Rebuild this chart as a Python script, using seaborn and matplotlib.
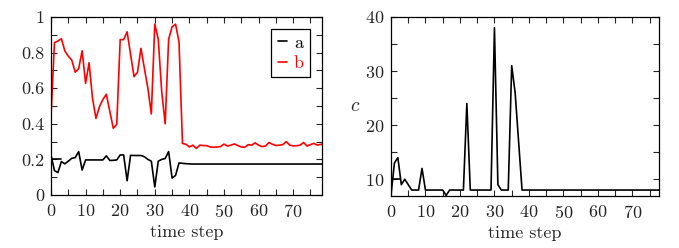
import numpy as np
import pandas as pd
import matplotlib
matplotlib.use("Agg")
import matplotlib.pyplot as plt
import seaborn as sns
from matplotlib.ticker import MultipleLocator

# time steps
steps = list(range(80))

serie_a = [0.225, 0.137, 0.126, 0.188, 0.175, 0.19, 0.206, 0.21, 0.244, 0.14,
           0.197, 0.197, 0.197, 0.197, 0.197, 0.197, 0.22, 0.194, 0.195, 0.197,
           0.225, 0.225, 0.08, 0.223, 0.222, 0.222, 0.222, 0.215, 0.2, 0.19,
           0.045, 0.19, 0.2, 0.205, 0.244, 0.095, 0.11, 0.18, 0.178, 0.176,
           0.175, 0.174, 0.174, 0.174, 0.174, 0.174, 0.174, 0.174, 0.174, 0.174,
           0.174, 0.174, 0.174, 0.174, 0.174, 0.174, 0.174, 0.174, 0.174, 0.174,
           0.174, 0.174, 0.174, 0.174, 0.174, 0.174, 0.174, 0.174, 0.174, 0.174,
           0.174, 0.174, 0.174, 0.174, 0.174, 0.174, 0.174, 0.174, 0.174, 0.174]

serie_b = [0.44, 0.856, 0.865, 0.878, 0.81, 0.78, 0.758, 0.69, 0.71, 0.81,
           0.627, 0.743, 0.543, 0.43, 0.496, 0.537, 0.566, 0.47, 0.375, 0.397,
           0.873, 0.873, 0.917, 0.79, 0.665, 0.69, 0.824, 0.71, 0.6, 0.455,
           0.96, 0.875, 0.58, 0.40, 0.875, 0.945, 0.96, 0.86, 0.29, 0.285,
           0.27, 0.28, 0.262, 0.28, 0.278, 0.277, 0.27, 0.268, 0.27, 0.272,
           0.286, 0.275, 0.28, 0.287, 0.278, 0.27, 0.268, 0.283, 0.28, 0.293,
           0.28, 0.272, 0.275, 0.295, 0.285, 0.278, 0.28, 0.283, 0.3, 0.28,
           0.276, 0.277, 0.28, 0.295, 0.275, 0.283, 0.29, 0.28, 0.285, 0.282]

serie_c = [7, 13, 14, 9, 10, 9, 8, 8, 8, 12,
           8, 8, 8, 8, 8, 8, 7, 8, 8, 8,
           8, 8, 24, 8, 8, 8, 8, 8, 8, 8,
           38, 9, 8, 8, 8, 31, 26, 17, 8, 8] + [8] * 40

# short initial segments seen at the start of a and c
inicio_t = [0, 3]
inicio_a = [0.2, 0.2]
inicio_c_t = [0, 2.7]
inicio_c = [10, 10]

etiquetas = ["a", "b"]
colores = ["black", "#ff0000"]

df = pd.DataFrame({"t": steps, "a": serie_a, "b": serie_b, "c": serie_c})

sns.set_style("ticks")
plt.rcParams["font.family"] = ["cmr10", "DejaVu Serif"]
plt.rcParams["mathtext.fontset"] = "cm"
plt.rcParams["axes.formatter.use_mathtext"] = True
plt.rcParams["font.size"] = 13

fig = plt.figure(figsize=(6.79, 2.48), dpi=100)
ax1 = fig.add_axes([0.0751, 0.2137, 0.3990, 0.7177])
ax2 = fig.add_axes([0.5758, 0.2097, 0.3947, 0.7218])

for serie, col in zip(etiquetas, colores):
    sns.lineplot(data=df, x="t", y=serie, ax=ax1, color=col, lw=1.2, label=serie)
sns.lineplot(x=inicio_t, y=inicio_a, ax=ax1, color="black", lw=1.2)

sns.lineplot(data=df, x="t", y="c", ax=ax2, color="black", lw=1.2)
sns.lineplot(x=inicio_c_t, y=inicio_c, ax=ax2, color="black", lw=1.2)

for ax in (ax1, ax2):
    ax.xaxis.set_major_locator(MultipleLocator(10))
    ax.xaxis.set_minor_locator(MultipleLocator(5))
    ax.tick_params(which="both", direction="in", top=True, right=True,
                   length=4, width=0.8, labelsize=13)
    ax.tick_params(axis="x", pad=6)
    ax.tick_params(axis="y", pad=5)
    for sp in ax.spines.values():
        sp.set_linewidth(0.9)
        sp.set_color("black")
    ax.set_xlabel("time step", fontsize=13, labelpad=3)

ax1.set_xlim(0, 78.3)
ax1.set_ylim(0, 1)
ax1.yaxis.set_minor_locator(MultipleLocator(0.1))
ax1.set_yticks([0, 0.2, 0.4, 0.6, 0.8, 1.0])
ax1.set_yticklabels(["0", "0.2", "0.4", "0.6", "0.8", "1"])
ax1.set_ylabel("")

ax2.set_xlim(0, 77.7)
ax2.set_ylim(6.9, 40)
ax2.yaxis.set_major_locator(MultipleLocator(10))
ax2.yaxis.set_minor_locator(MultipleLocator(5))
ax2.set_ylabel("$c$", rotation=0, fontsize=14, labelpad=7, va="center")

handles, labels = ax1.get_legend_handles_labels()
leg = ax1.legend(handles[:2], labels[:2], loc="upper right",
                 bbox_to_anchor=(0.99, 0.985),
                 handlelength=0.5, handletextpad=0.4, borderpad=0.35,
                 labelspacing=0.25, fancybox=False, framealpha=1,
                 edgecolor="black", fontsize=13)
leg.get_frame().set_linewidth(0.9)
for txt, col in zip(leg.get_texts(), colores):
    txt.set_color(col)

fig.savefig("out.png", dpi=100)
